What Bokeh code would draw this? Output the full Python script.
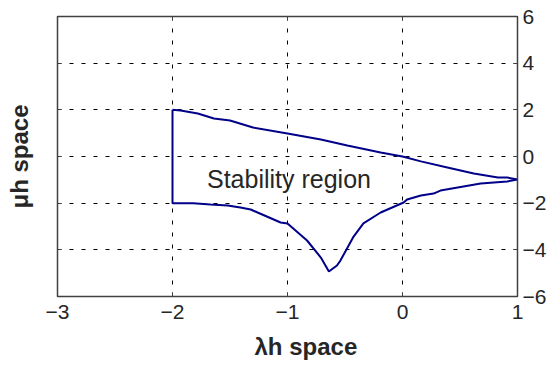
from bokeh.plotting import figure
from bokeh.models import LinearAxis, Range1d, FixedTicker, Title
from bokeh.core.properties import value
from bokeh.embed import file_html
from bokeh.resources import INLINE

# Stability region boundary (lambda*h, mu*h)
region_x = [-2.0, -1.93, -1.78, -1.64, -1.50, -1.30, -1.00, -0.71, -0.48, -0.19, 0.00, 0.16, 0.39, 0.62, 0.83, 0.91, 1.00,
            0.91, 0.68, 0.48, 0.33, 0.27, 0.16, 0.04, 0.01, -0.19, -0.34, -0.43, -0.54, -0.57, -0.64, -0.71, -0.83, -1.00,
            -1.06, -1.26, -1.32, -1.41, -1.52, -1.67, -1.82, -2.0, -2.0]
region_y = [2.0, 1.97, 1.84, 1.63, 1.54, 1.24, 0.99, 0.73, 0.47, 0.17, 0.00, -0.21, -0.47, -0.73, -0.90, -0.90, -0.99,
            -1.07, -1.16, -1.33, -1.46, -1.59, -1.67, -1.84, -1.97, -2.40, -2.87, -3.47, -4.46, -4.67, -4.93, -4.33, -3.60, -2.87,
            -2.83, -2.40, -2.27, -2.19, -2.10, -2.06, -2.00, -2.00, 2.0]
x_ticks = [-3, -2, -1, 0, 1]
y_ticks = [-6, -4, -2, 0, 2, 4, 6]
label_text = ["Stability region"]
label_x = [-1.70]
label_y = [-0.98]
x_title = "λh space"
y_title = "μh space"

FONT = "Liberation Sans"
TXT = "#262626"
AX = "#404040"

p = figure(width=549, height=369, output_backend="svg", toolbar_location=None,
           x_range=Range1d(-3, 1), y_range=Range1d(-6, 6), y_axis_location="right",
           min_border_left=57, min_border_top=16, min_border_right=32, min_border_bottom=73)
p.background_fill_color = "white"
p.border_fill_color = "white"
p.outline_line_color = AX
p.outline_line_width = 1.5

for ax in (p.xaxis[0], p.yaxis[0]):
    ax.major_label_text_font = FONT
    ax.major_label_text_font_size = "21px"
    ax.major_label_text_color = TXT
    ax.axis_line_color = AX
    ax.major_tick_line_color = AX
    ax.major_tick_in = 4
    ax.major_tick_out = 0
    ax.minor_tick_line_color = None

p.xaxis[0].ticker = FixedTicker(ticks=x_ticks)
p.yaxis[0].ticker = FixedTicker(ticks=y_ticks)
p.xaxis[0].major_label_standoff = 8
p.yaxis[0].major_label_standoff = 5

def bare_axis(ticks):
    a = LinearAxis(ticker=FixedTicker(ticks=ticks))
    a.major_label_text_font_size = "0px"
    a.major_label_text_color = None
    a.axis_line_color = AX
    a.major_tick_line_color = AX
    a.major_tick_in = 4
    a.major_tick_out = 0
    a.minor_tick_line_color = None
    return a

left = bare_axis(y_ticks)
left.axis_label = y_title
left.axis_label_text_font = FONT
left.axis_label_text_font_size = "24px"
left.axis_label_text_font_style = "bold"
left.axis_label_text_color = TXT
left.axis_label_standoff = 25
p.add_layout(left, "left")
p.add_layout(bare_axis(x_ticks), "above")

xt = Title(text=x_title, align="left", offset=197, standoff=18, text_font=FONT, text_font_size="24px",
           text_font_style="bold", text_color=TXT)
p.add_layout(xt, "below")

p.xgrid.ticker = FixedTicker(ticks=[-2, -1, 0])
p.ygrid.ticker = FixedTicker(ticks=[-4, -2, 0, 2, 4])
for g in (p.xgrid[0], p.ygrid[0]):
    g.grid_line_color = "black"
    g.grid_line_dash = "4 8"
    g.grid_line_width = 1

p.line(region_x, region_y, line_color="#000088", line_width=2)
p.text(x=label_x, y=label_y, text=label_text, text_font=value(FONT), text_font_size="25px",
       text_color=TXT, text_baseline="middle", text_align="left")

open("out.html", "w").write(file_html(p, INLINE))
